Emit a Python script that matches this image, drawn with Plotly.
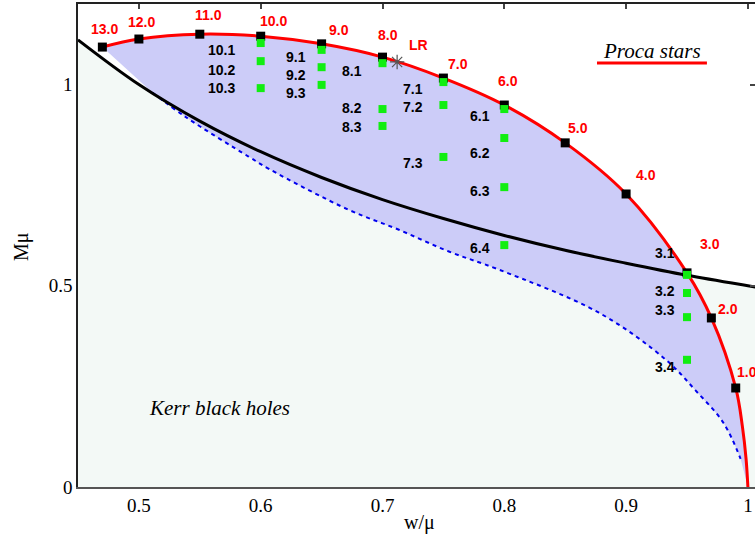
import plotly.graph_objects as go

# ---------------- data ----------------
# Proca star line (black squares with red labels)
ps_w = [0.47, 0.50, 0.55, 0.60, 0.65, 0.70, 0.75, 0.80, 0.85, 0.90, 0.95, 0.97, 0.99]
ps_M = [1.093, 1.113, 1.125, 1.120, 1.101, 1.068, 1.016, 0.949, 0.855, 0.728, 0.532, 0.420, 0.246]
ps_lab = ["13.0", "12.0", "11.0", "10.0", "9.0", "8.0", "7.0", "6.0", "5.0", "4.0", "3.0", "2.0", "1.0"]
# tail of the Proca curve down to w/mu = 1
tail_w = [0.9955, 0.9985, 1.0]
tail_M = [0.15, 0.07, 0.0]

# hairy black hole solutions (green squares)
hb_w = [0.60, 0.60, 0.60, 0.65, 0.65, 0.65, 0.70, 0.70, 0.70, 0.75, 0.75, 0.75,
        0.80, 0.80, 0.80, 0.80, 0.95, 0.95, 0.95, 0.95]
hb_M = [1.103, 1.058, 0.991, 1.086, 1.043, 0.999, 1.053, 0.939, 0.897, 1.006, 0.949, 0.820,
        0.939, 0.867, 0.745, 0.601, 0.527, 0.482, 0.422, 0.316]
hb_lab = ["10.1", "10.2", "10.3", "9.1", "9.2", "9.3", "8.1", "8.2", "8.3", "7.1", "7.2", "7.3",
          "6.1", "6.2", "6.3", "6.4", "3.1", "3.2", "3.3", "3.4"]

# extremal Kerr line (black)
kerr_w = [0.45, 0.50, 0.55, 0.60, 0.65, 0.70, 0.75, 0.80, 0.85, 0.90, 0.95, 1.00, 1.006]
kerr_M = [1.111, 1.000, 0.909, 0.833, 0.769, 0.714, 0.667, 0.625, 0.588, 0.556, 0.526, 0.500, 0.497]

# existence line (blue dotted)
ex_w = [0.511, 0.539, 0.590, 0.6075, 0.672, 0.7135, 0.7545, 0.7956, 0.8777, 0.9327, 0.957, 0.980, 0.994]
ex_M = [0.980, 0.918, 0.821, 0.789, 0.689, 0.639, 0.585, 0.540, 0.433, 0.316, 0.240, 0.159, 0.070]

# light ring point
lr_w = [0.712]
lr_M = [1.056]

x_ticks = [0.5, 0.6, 0.7, 0.8, 0.9, 1.0]
x_ticktext = ["0.5", "0.6", "0.7", "0.8", "0.9", "1"]
y_ticks = [0, 0.5, 1]
y_ticktext = ["0", "0.5", "1"]

# ---------------- styles ----------------
red_off = [(2, -18), (3, -17), (9, -19), (13, -15), (17, -14), (5, -22), (15, -14), (4, -24),
           (13, -15), (20, -19), (23, -29), (17, -9), (11, -16)]
hb_off = [(-39, 7), (-39, 9), (-39, 0), (-26, 7), (-26, 8), (-26, 8), (-31, 8), (-31, -1), (-31, 1),
          (-30, 7), (-30, 2), (-30, 6), (-24, 7), (-24, 15), (-24, 4), (-24, 3),
          (-22, -22), (-22, -2), (-22, -7), (-22, 7)]

MINT = "#f3f9f6"
LAV = "#ccccf8"
GREEN = "#11ee11"
SERIF = "Liberation Serif"
SANS = "Liberation Sans"

XR = [0.45, 0.45 + 677 / 1218]
YR = [0, 1.2]

fig = go.Figure()

# mint region below Kerr line
fig.add_trace(go.Scatter(x=kerr_w, y=kerr_M, mode="lines", fill="tozeroy",
                         fillcolor=MINT, line=dict(width=0), hoverinfo="skip", showlegend=False))
# lavender region between existence line and Proca curve
fig.add_trace(go.Scatter(x=ex_w, y=ex_M, mode="lines", line=dict(width=0, shape="spline"),
                         hoverinfo="skip", showlegend=False))
fig.add_trace(go.Scatter(x=ps_w + tail_w, y=ps_M + tail_M, mode="lines", fill="tonexty",
                         fillcolor=LAV, line=dict(width=0, shape="spline"),
                         hoverinfo="skip", showlegend=False))
# visible lines
fig.add_trace(go.Scatter(x=ex_w, y=ex_M, mode="lines",
                         line=dict(color="#0000ee", width=2, dash="4px,4px", shape="spline"),
                         showlegend=False))
fig.add_trace(go.Scatter(x=kerr_w, y=kerr_M, mode="lines",
                         line=dict(color="black", width=3, shape="spline"), showlegend=False))
fig.add_trace(go.Scatter(x=ps_w + tail_w, y=ps_M + tail_M, mode="lines",
                         line=dict(color="#ff0000", width=3, shape="spline"), showlegend=False))
# markers
fig.add_trace(go.Scatter(x=ps_w, y=ps_M, mode="markers",
                         marker=dict(symbol="square", size=9, color="black"), showlegend=False))
fig.add_trace(go.Scatter(x=hb_w, y=hb_M, mode="markers",
                         marker=dict(symbol="square", size=8, color=GREEN), showlegend=False))
fig.add_trace(go.Scatter(x=lr_w, y=lr_M, mode="markers",
                         marker=dict(symbol="asterisk-open", size=12, color="#555555",
                                     line=dict(color="#555555", width=1.2)), showlegend=False))
# dummy for mirrored axes
fig.add_trace(go.Scatter(x=[None], y=[None], xaxis="x2", yaxis="y2", showlegend=False))

ann = []
for w, m, t, (dx, dy) in zip(ps_w, ps_M, ps_lab, red_off):
    ann.append(dict(x=w, y=m, xref="x", yref="y", text="<b>%s</b>" % t, showarrow=False,
                    xshift=dx, yshift=-dy, xanchor="center", yanchor="middle",
                    font=dict(family=SANS, size=14, color="#ff0000")))
for w, m, t, (dx, dy) in zip(hb_w, hb_M, hb_lab, hb_off):
    ann.append(dict(x=w, y=m, xref="x", yref="y", text="<b>%s</b>" % t, showarrow=False,
                    xshift=dx, yshift=-dy, xanchor="center", yanchor="middle",
                    font=dict(family=SANS, size=14, color="black")))
ann.append(dict(x=lr_w[0], y=lr_M[0], xref="x", yref="y", text="<b>LR</b>", showarrow=False,
                xshift=21, yshift=17, xanchor="center", yanchor="middle",
                font=dict(family=SANS, size=14, color="#ff0000")))
ann.append(dict(x=0.2097, y=0.1636, xref="paper", yref="paper", text="<i>Kerr black holes</i>",
                showarrow=False, xanchor="center", yanchor="middle",
                font=dict(family=SERIF, size=21, color="black")))
ann.append(dict(x=0.848, y=0.9027, xref="paper", yref="paper", text="<i>Proca stars</i>",
                showarrow=False, xanchor="center", yanchor="middle",
                font=dict(family=SERIF, size=21, color="black")))
ann.append(dict(x=0.505, y=0, xref="paper", yref="paper", text="w/\u03bc", showarrow=False,
                yshift=-35, xanchor="center", yanchor="middle",
                font=dict(family=SERIF, size=20, color="black")))
ann.append(dict(x=0, y=0.497, xref="paper", yref="paper", text="M\u03bc", showarrow=False,
                xshift=-56, textangle=-90, xanchor="center", yanchor="middle",
                font=dict(family=SERIF, size=20, color="black")))

fig.update_layout(
    width=755, height=537,
    margin=dict(l=78, r=0, t=4, b=50),
    paper_bgcolor="white", plot_bgcolor="white",
    showlegend=False,
    annotations=ann,
    shapes=[dict(type="line", xref="paper", yref="paper", x0=0.7666, x1=0.929, y0=0.8778, y1=0.8778,
                 line=dict(color="#ff0000", width=3))],
    xaxis=dict(range=XR, tickvals=x_ticks, ticktext=x_ticktext, ticks="", showgrid=False,
               zeroline=False, showline=True, linecolor="#555555", linewidth=2,
               tickfont=dict(family=SERIF, size=19, color="black")),
    yaxis=dict(range=YR, tickvals=y_ticks, ticktext=y_ticktext, ticks="", showgrid=False,
               zeroline=False, showline=True, linecolor="#222222", linewidth=1.5,
               tickfont=dict(family=SERIF, size=19, color="black")),
    xaxis2=dict(range=XR, overlaying="x", side="top", anchor="y2", tickvals=x_ticks,
                showticklabels=False, ticks="inside", ticklen=5, tickcolor="#444444",
                tickwidth=1.5, showgrid=False, zeroline=False, showline=True,
                linecolor="#222222", linewidth=1.5),
    yaxis2=dict(range=YR, overlaying="y", side="right", anchor="x2", tickvals=y_ticks,
                showticklabels=False, ticks="inside", ticklen=5, tickcolor="#444444",
                tickwidth=1.5, showgrid=False, zeroline=False, showline=False),
)

fig.write_html("out.html")
